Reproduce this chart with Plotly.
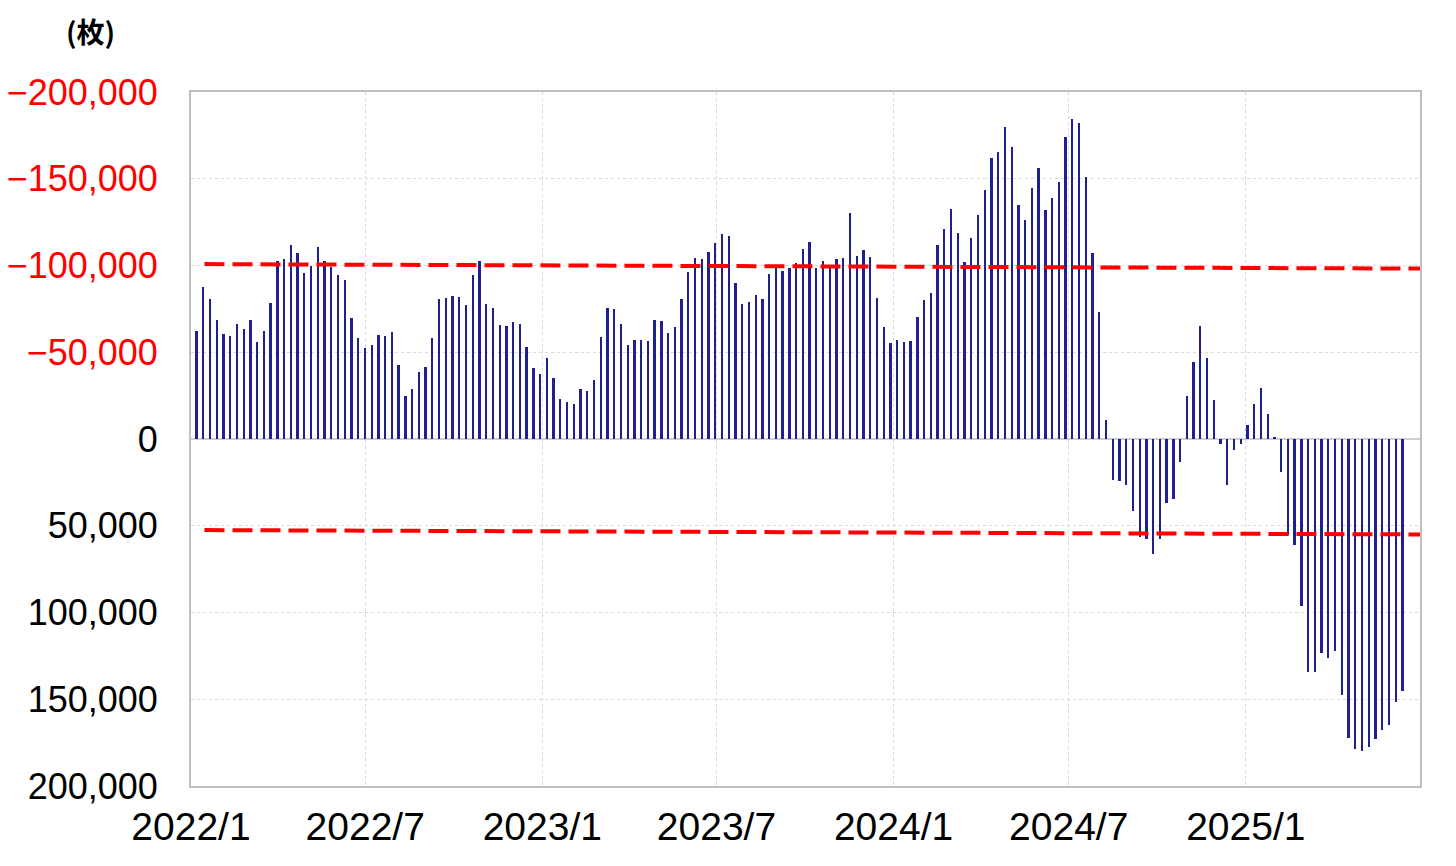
import pandas as pd
import plotly.graph_objects as go

# Weekly net positions (枚); negative = net long shown upward (reversed axis)
dates = pd.date_range("2022-01-07", periods=180, freq="7D")
values = [
    -62400, -87600, -80900, -68400, -60500, -59100, -66100, -63400, -68800, -55900,
    -62400, -78600, -102400, -103700, -112000, -107400, -95700, -100000, -110700, -102400,
    -99000, -94500, -91800, -69700, -58400, -52600, -54400, -59900, -59400, -61400,
    -42600, -25000, -28800, -38800, -41700, -58200, -80700, -81400, -82700, -81600,
    -77400, -94500, -102800, -77600, -75300, -65700, -64900, -67400, -66100, -53200,
    -40900, -37600, -46900, -35300, -22800, -21500, -19900, -29000, -27800, -34000,
    -58800, -75500, -74900, -66300, -54000, -56900, -57000, -56700, -68600, -68200,
    -60900, -64600, -80500, -96300, -104600, -104000, -107600, -112800, -118000, -117200,
    -90100, -77600, -79000, -83000, -80700, -95300, -98400, -97000, -98400, -101600,
    -109300, -113700, -98400, -102600, -98400, -103700, -104300, -130300, -105500, -109100,
    -104900, -81100, -64700, -55300, -57100, -55900, -56300, -70500, -80300, -84200,
    -111600, -120800, -132600, -118700, -102200, -116000, -129100, -143300, -162100, -165600,
    -180000, -168500, -134900, -126000, -144500, -156000, -132200, -138700, -148000, -173900,
    -184300, -182100, -151000, -107000, -73400, -11000, 23600, 24200, 26300, 41500,
    56300, 57400, 66500, 57400, 37100, 34800, 13300, -24800, -44400, -64900,
    -46700, -22700, 2900, 26300, 6300, 2900, -8300, -20200, -29200, -14600,
    -800, 19300, 55300, 61000, 96400, 134100, 134500, 123500, 126000, 122200,
    147600, 172500, 178500, 179800, 177700, 173100, 167900, 164700, 151800, 145200,
]

# Red dashed reference lines (start / end)
line_x = ["2022-01-15", "2025-07-01"]
upper_line = [-100800, -98200]
lower_line = [52500, 55000]

y_ticks = [-200000, -150000, -100000, -50000, 0, 50000, 100000, 150000, 200000]
y_text = [
    "<span style='color:#ff0000'>−200,000</span>",
    "<span style='color:#ff0000'>−150,000</span>",
    "<span style='color:#ff0000'>−100,000</span>",
    "<span style='color:#ff0000'>−50,000</span>",
    "0", "50,000", "100,000", "150,000", "200,000",
]
x_ticks = ["2022-01-01", "2022-07-01", "2023-01-01", "2023-07-01",
           "2024-01-01", "2024-07-01", "2025-01-01"]
x_text = ["2022/1", "2022/7", "2023/1", "2023/7", "2024/1", "2024/7", "2025/1"]

FONT = "Liberation Sans, Arial, sans-serif"

fig = go.Figure()
fig.add_trace(go.Bar(
    x=dates, y=values,
    width=1.9 * 86400000,
    marker=dict(color="#1f1f8f", line=dict(width=0)),
    showlegend=False,
))
for ys in (upper_line, lower_line):
    fig.add_trace(go.Scatter(
        x=line_x, y=ys, mode="lines",
        line=dict(color="#ff0000", width=4, dash="20px,8px"),
        showlegend=False, hoverinfo="skip",
    ))

fig.update_layout(
    width=1456, height=866,
    margin=dict(l=183, r=44, t=84, b=88, autoexpand=False),
    paper_bgcolor="white", plot_bgcolor="white",
    font=dict(family=FONT, size=36, color="black"),
    bargap=0,
    annotations=[dict(
        text="<b>(枚)</b>", xref="paper", yref="paper",
        x=-0.0814, y=1.088, xanchor="center", yanchor="middle",
        showarrow=False,
        font=dict(family="Noto Sans CJK JP", size=28, color="black"),
    )],
)
fig.update_xaxes(
    type="date",
    range=["2022-01-01", "2025-07-01"],
    tickvals=x_ticks, ticktext=x_text,
    showgrid=True, gridcolor="#d9d9d9", griddash="dot", gridwidth=1,
    showline=True, linecolor="#bfbfbf", linewidth=2, mirror=True,
    ticks="", ticklabelstandoff=5, automargin=False,
    tickfont=dict(family=FONT, size=39, color="black"),
)
fig.update_yaxes(
    range=[200000, -200000],
    tickvals=y_ticks, ticktext=y_text,
    showgrid=True, gridcolor="#d9d9d9", griddash="dot", gridwidth=1,
    zeroline=True, zerolinecolor="#d0d0d0", zerolinewidth=2,
    showline=True, linecolor="#bfbfbf", linewidth=2, mirror=True,
    ticks="", ticklabelstandoff=24, automargin=False,
    tickfont=dict(family=FONT, size=36, color="black"),
)

fig.write_html("out.html")
